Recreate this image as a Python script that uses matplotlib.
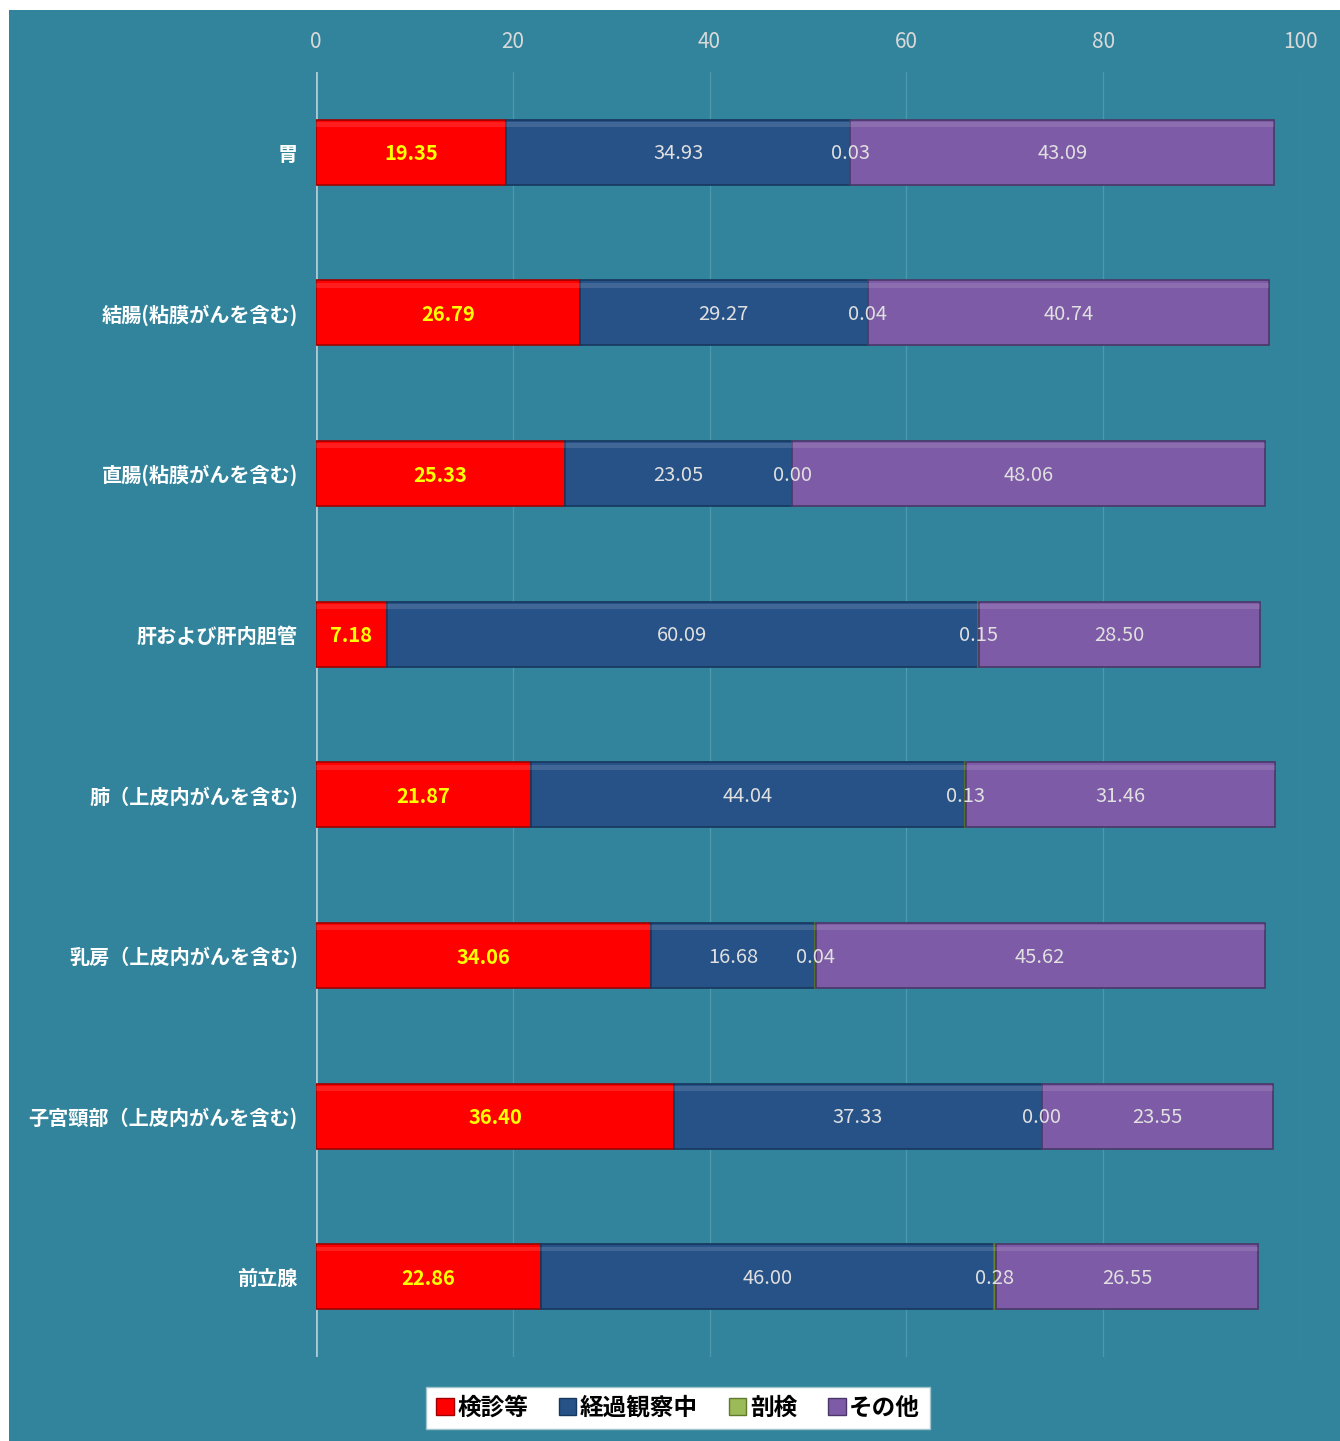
import matplotlib.pyplot as plt
from matplotlib.patches import Rectangle, Patch

plt.rcParams['font.family'] = ['Noto Sans CJK JP', 'DejaVu Sans']

# 部位ごとの割合 (%)
sites = ['胃', '結腸(粘膜がんを含む)', '直腸(粘膜がんを含む)', '肝および肝内胆管',
         '肺（上皮内がんを含む)', '乳房（上皮内がんを含む)', '子宮頸部（上皮内がんを含む)', '前立腺']
kenshin = [19.35, 26.79, 25.33, 7.18, 21.87, 34.06, 36.40, 22.86]
keika = [34.93, 29.27, 23.05, 60.09, 44.04, 16.68, 37.33, 46.00]
bouken = [0.03, 0.04, 0.00, 0.15, 0.13, 0.04, 0.00, 0.28]
sonota = [43.09, 40.74, 48.06, 28.50, 31.46, 45.62, 23.55, 26.55]

series_names = ['検診等', '経過観察中', '剖検', 'その他']
series_vals = [kenshin, keika, bouken, sonota]
colors = ['#FF0000', '#265287', '#9BBB59', '#7D5BA6']
edges = ['#A00000', '#17375E', '#5E7A2A', '#4B3668']

bg = '#31849B'
W, H = 1340, 1441
fig = plt.figure(figsize=(W / 100, H / 100), dpi=100)
fig.patch.set_facecolor('white')
fig.patches.append(Rectangle((9 / W, 0), 1 - 9 / W, 1 - 10 / H, transform=fig.transFigure,
                             facecolor=bg, edgecolor='none', zorder=-10))

ax = fig.add_axes([316 / W, 1 - 1357 / H, (1300 - 316) / W, (1357 - 72) / H])
ax.set_facecolor(bg)
ax.patch.set_alpha(0)

ypos = list(range(len(sites)))
left = [0.0] * len(sites)
bh = 0.405
for i, (name, vals) in enumerate(zip(series_names, series_vals)):
    ax.barh(ypos, vals, left=left, height=bh, color=colors[i], edgecolor=edges[i],
            linewidth=1.2, zorder=3)
    # 上部のハイライト（立体感）
    ax.barh([y - bh / 2 + 0.03 for y in ypos], vals, left=left, height=0.03,
            color='white', alpha=0.12, linewidth=0, zorder=4)
    for y, v, l in zip(ypos, vals, left):
        if i == 0:
            ax.text(l + v / 2, y + 0.01, f'{v:.2f}', ha='center', va='center', color='#FFFF00',
                    fontsize=14.5, fontweight='bold', zorder=5)
        else:
            ax.text(l + v / 2, y + 0.01, f'{v:.2f}', ha='center', va='center', color='#E0E0E0',
                    fontsize=14.5, zorder=5)
    left = [a + b for a, b in zip(left, vals)]

ax.set_xlim(0, 100)
ax.set_ylim(len(sites) - 0.5, -0.5)
ax.set_xticks([0, 20, 40, 60, 80, 100])
ax.xaxis.tick_top()
ax.tick_params(axis='x', length=0, pad=14, labelsize=15, labelcolor='#D9D9D9')
ax.set_yticks(ypos)
ax.set_yticklabels(sites)
ax.tick_params(axis='y', length=0, pad=13, labelsize=14.5, labelcolor='white')
for lab in ax.get_yticklabels():
    lab.set_fontweight('bold')
ax.grid(axis='x', color='#4C98AD', linewidth=1, zorder=1)
ax.axvline(0, color='#A8CBD5', linewidth=2, zorder=2)
for s in ax.spines.values():
    s.set_visible(False)

handles = [Patch(facecolor=c, edgecolor=e) for c, e in zip(colors, edges)]
leg = fig.legend(handles, series_names, loc='center', bbox_to_anchor=(678 / W, 1 - 1408 / H),
                 ncol=4, frameon=True, fancybox=False, framealpha=1, handlelength=0.75,
                 handleheight=0.75, handletextpad=0.15, columnspacing=1.3, borderpad=0.4,
                 prop={'size': 17, 'weight': 'bold'})
leg.get_frame().set_facecolor('white')
leg.get_frame().set_edgecolor('#A0C4CE')

fig.savefig('out.png', dpi=100, facecolor=fig.get_facecolor())
